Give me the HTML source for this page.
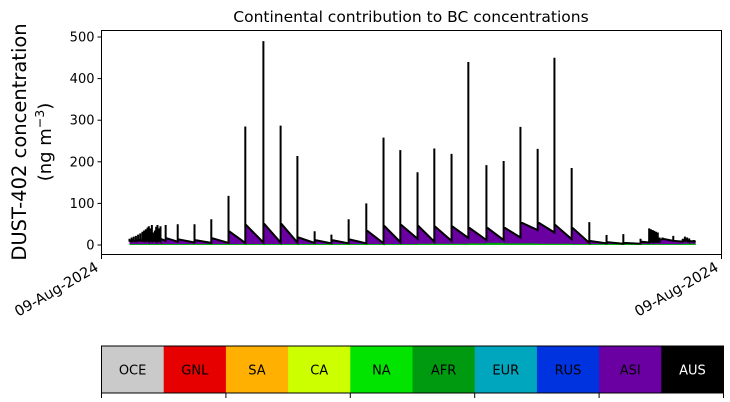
<!DOCTYPE html>
<html><head><meta charset="utf-8"><style>
html,body{margin:0;padding:0;background:#fff;width:730px;height:402px;overflow:hidden}
svg{font-family:"DejaVu Sans","Liberation Sans",sans-serif}
</style></head><body>
<svg id="chart" width="730" height="402" viewBox="0 0 730 402">
<text x="411" y="22" font-size="15.5" text-anchor="middle">Continental contribution to BC concentrations</text>
<g id="plot"></g>
<rect x="101.5" y="30.5" width="620" height="224" fill="none" stroke="#000" stroke-width="1"/>
<g id="yaxis"></g>
<g id="xaxis"></g>
<text transform="translate(26,142) rotate(-90)" font-size="19.5" text-anchor="middle">DUST-402 concentration</text>
<text transform="translate(51,142) rotate(-90)" font-size="18" text-anchor="middle">(ng m<tspan font-size="12.5" dy="-7">−3</tspan><tspan dy="7">)</tspan></text>
<g id="legend"></g>
</svg>
<script>
const segTimes = [65,70,75,80,85,90,95,99,103,107,110,114,117,121,124,127,130,134,137,149,177,216,255,295,334,376,416,455,495,534,574,615,655,694,734,773,813,852,894,934,973,1013,1052,1092,1133,1173,1212,1252,1272,1276,1280,1284,1288,1292,1296,1303,1328,1350,1355,1360,1365,1375];
const spikeVals = [15,18,20,22,25,28,32,35,38,42,45,40,48,30,35,44,48,40,45,48,50,50,62,118,285,490,287,214,33,25,62,100,258,228,175,232,219,440,192,202,284,231,450,185,55,24,26,15,40,38,36,34,32,30,18,18,22,15,20,18,16,12];
const baseStart = [10,12,10,12,14,12,13,12,14,15,12,13,12,14,15,13,14,15,15,17,14,12,17,34,50,53,53,19,12,12,14,36,48,50,48,46,46,43,43,43,55,55,50,43,10,7,5,8,10,12,10,9,11,10,12,15,10,12,14,12,10,10];
const baseEnd   = [9,10,9,10,11,10,10,10,11,10,10,10,10,11,10,10,11,10,10,8,6,5,5,5,6,6,6,5,4,4,4,4,7,15,8,10,17,12,12,18,36,30,14,5,4,3,3,6,8,8,8,8,8,8,14,10,8,10,10,8,8,8];
const greenVals = [2,2,2,2,2,2,2,2,2,2,2,2,2,2,2,2,2,2,2,2,2,2,2,2,2,2,2,2,2,2,2,2,2,2,3,3,3,4,5,4,4,3,3,2,2,2,2,2,2,2,2,2,2,2,2,2,2,3,3,3,3,3];
const endTime = 1380;
const yTicks = [0,100,200,300,400,500];
const xTickLabels = ["09-Aug-2024","09-Aug-2024"];
const regions = ["OCE","GNL","SA","CA","NA","AFR","EUR","RUS","ASI","AUS"];
const regionColors = ["#cacaca","#e60000","#ffb000","#ccff00","#00e400","#009a10","#00a6be","#0033e0","#6a00a2","#000000"];

const NS="http://www.w3.org/2000/svg";
const X0=101.5,X1=721.5,Y0=245,Yp=0.416;
const x=t=>X0+t*(X1-X0)/1440;
const y=v=>Y0-v*Yp;
function mk(tag,attrs,parent){const e=document.createElementNS(NS,tag);for(const k in attrs)e.setAttribute(k,attrs[k]);parent.appendChild(e);return e;}
const plot=document.getElementById('plot');

function nextT(i){return i+1<segTimes.length?segTimes[i+1]:endTime;}
let pd="M"+x(segTimes[0])+","+y(0);
segTimes.forEach((t,i)=>{pd+=" L"+x(t)+","+y(baseStart[i])+" L"+x(nextT(i))+","+y(baseEnd[i]);});
pd+=" L"+x(endTime)+","+y(0)+" Z";
const purple=mk('path',{d:pd,fill:"#6a00a2"},plot);


let gd="M"+x(segTimes[0])+","+y(0);
segTimes.forEach((t,i)=>{gd+=" L"+x(t)+","+y(greenVals[i])+" L"+x(nextT(i))+","+y(greenVals[i]);});
gd+=" L"+x(endTime)+","+y(0)+" Z";
const green=mk('path',{d:gd,fill:"#009a10"},plot);


const ng=mk('rect',{x:x(segTimes[0]),y:y(1),width:x(endTime)-x(segTimes[0]),height:1*Yp,fill:"#00e400"},plot);


let ld="M"+x(segTimes[0])+","+y(baseStart[0]);
segTimes.forEach((t,i)=>{ld+=" L"+x(t)+","+y(spikeVals[i])+" L"+x(t)+","+y(baseStart[i])+" L"+x(nextT(i))+","+y(baseEnd[i]);});
const line=mk('path',{d:ld,fill:"none",stroke:"#000","stroke-width":2},plot);



const ya=document.getElementById('yaxis');
yTicks.forEach(v=>{
  const tk=mk('line',{x1:X0-4,x2:X0,y1:y(v),y2:y(v),stroke:"#000"},ya);
  
  
  const lb=mk('text',{x:X0-7,y:y(v)+4.5,"font-size":13,"text-anchor":"end"},ya);
  lb.textContent=v;
  
  
});
const xa=document.getElementById('xaxis');
[X0,X1].forEach((px,i)=>{
  const tk=mk('line',{x1:px,x2:px,y1:254.5,y2:259,stroke:"#000"},xa);
  
  
  const lb=mk('text',{transform:`translate(${px-2},${270}) rotate(-30)`,"font-size":14.5,"text-anchor":"end"},xa);
  lb.textContent=xTickLabels[i];
  
  
});
const lg=document.getElementById('legend');
const LX=101.5,LW=62.2,LY=346,LH=47;
regions.forEach((r,i)=>{
  const rc=mk('rect',{x:LX+i*LW,y:LY,width:LW+0.5,height:LH,fill:regionColors[i]},lg);
  
  
  const t=mk('text',{x:LX+i*LW+LW/2,y:LY+LH/2+5,"font-size":13,"text-anchor":"middle",fill:r==="AUS"?"#fff":"#000"},lg);
  t.textContent=r;
  
  
});
const fr=mk('rect',{x:LX,y:LY,width:LW*10,height:LH,fill:"none",stroke:"#000"},lg);


for(let k=0;k<=5;k++){
  const tk=mk('line',{x1:LX+k*2*LW,x2:LX+k*2*LW,y1:LY+LH,y2:LY+LH+5,stroke:"#000"},lg);
  
  
}
</script>
</body></html>
